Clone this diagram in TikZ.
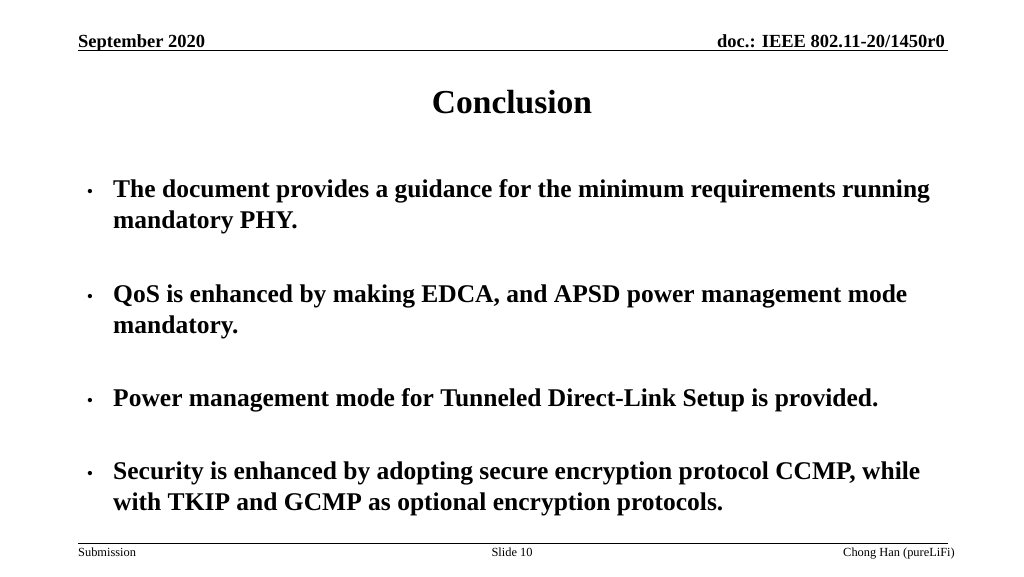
\documentclass[tikz,border=0pt]{standalone}
\usepackage{fontspec}
\setmainfont{Liberation Serif}
\begin{document}
\begin{tikzpicture}[x=1pt,y=-1pt,
  hdr/.style={font=\fontsize{18.5}{20}\selectfont\bfseries,inner sep=0pt},
  body/.style={font=\fontsize{25.5}{31}\selectfont\bfseries,inner sep=0pt,anchor=base west},
  ftr/.style={font=\fontsize{12.4}{14}\selectfont,inner sep=0pt}]
\useasboundingbox (0,0) rectangle (1024,576);
\node[hdr,anchor=base west] (date) at (78,47) {September 2020};
\node[hdr,anchor=base east] (doc) at (945,47) {doc.: IEEE 802.11-20/1450r0};
\draw[line width=1pt] (78,50) -- (948,50);
\node[font=\fontsize{33.5}{36}\selectfont\bfseries,inner sep=0pt,anchor=base] (title) at (512,113) {Conclusion};
\foreach \y in {197,302,406,479} \node[font=\fontsize{18}{20}\selectfont,inner sep=0pt,anchor=base] at (90,\y) {•};
\node[body] (b1a) at (113,197) {The document provides a guidance for the minimum requirements running};
\node[body] (b1b) at (113,228) {mandatory PHY.};
\node[body] (b2a) at (113,302) {QoS is enhanced by making EDCA, and APSD power management mode};
\node[body] (b2b) at (113,333) {mandatory.};
\node[body] (b3) at (113,406) {Power management mode for Tunneled Direct-Link Setup is provided.};
\node[body] (b4a) at (113,479) {Security is enhanced by adopting secure encryption protocol CCMP, while};
\node[body] (b4b) at (113,510) {with TKIP and GCMP as optional encryption protocols.};
\draw[line width=0.6pt] (78,543) -- (948,543);
\node[ftr,anchor=base west] (sub) at (78,556) {Submission};
\node[ftr,anchor=base] (slide) at (512,556) {Slide 10};
\node[ftr,anchor=base east] (auth) at (955,556) {Chong Han (pureLiFi)};
\end{tikzpicture}
\end{document}
